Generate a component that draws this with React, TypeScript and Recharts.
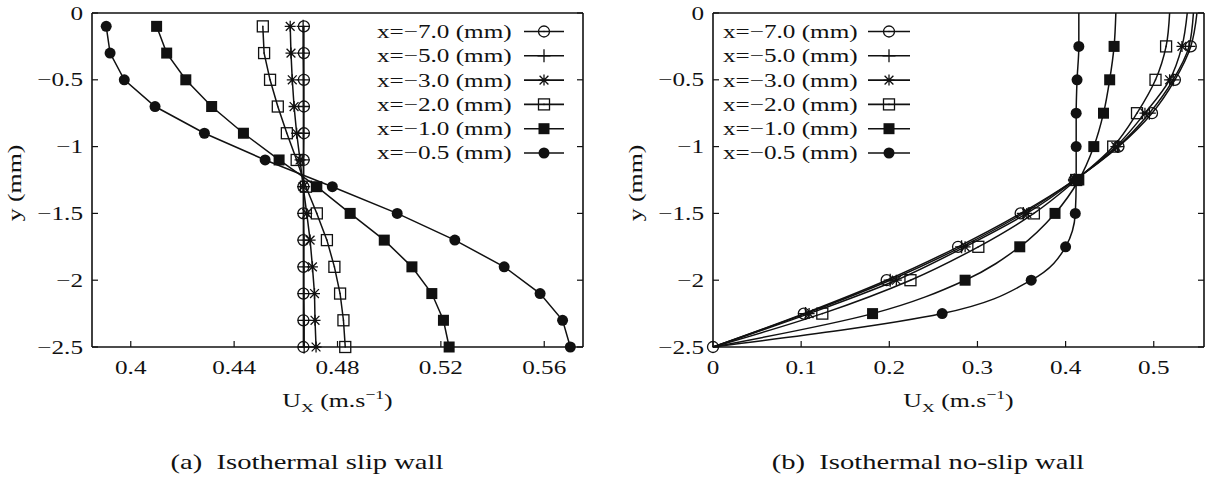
import React from "react"
import { LineChart, Line, XAxis, YAxis, Legend, Label } from "recharts"

const INK = "#111"
const FONT = "'Liberation Serif', 'Times New Roman', serif"
const STRETCH = 1.36
const FS = 18.5

const SERIES = ["x=−7.0 (mm)", "x=−5.0 (mm)", "x=−3.0 (mm)", "x=−2.0 (mm)", "x=−1.0 (mm)", "x=−0.5 (mm)"]
const MARKS = ["circle", "plus", "star", "square", "filledSquare", "filledCircle"]

// (a) isothermal slip wall
const slipY = [-0.1, -0.3, -0.5, -0.7, -0.9, -1.1, -1.3, -1.5, -1.7, -1.9, -2.1, -2.3, -2.5]
const slipM7 = [0.467, 0.467, 0.467, 0.467, 0.467, 0.4669, 0.4668, 0.4668, 0.4668, 0.4668, 0.4668, 0.4668, 0.4668]
const slipM5 = [0.4667, 0.4667, 0.4668, 0.4668, 0.4668, 0.4668, 0.4669, 0.4669, 0.467, 0.467, 0.467, 0.4671, 0.4671]
const slipM3 = [0.4617, 0.462, 0.4625, 0.4632, 0.4642, 0.4655, 0.4667, 0.4681, 0.4694, 0.4703, 0.4711, 0.4713, 0.4717]
const slipM2 = [0.4511, 0.4516, 0.4539, 0.4569, 0.4604, 0.4642, 0.4678, 0.472, 0.4759, 0.4788, 0.481, 0.4823, 0.483]
const slipM1 = [0.41, 0.4139, 0.4213, 0.4313, 0.4436, 0.4574, 0.472, 0.4849, 0.4981, 0.5088, 0.5165, 0.521, 0.5232]
const slipM05 = [0.3905, 0.392, 0.3975, 0.4094, 0.4285, 0.452, 0.478, 0.5031, 0.5254, 0.5445, 0.5584, 0.5671, 0.5701]
const slipXTicks = [0.4, 0.44, 0.48, 0.52, 0.56]

// (b) isothermal no-slip wall
const wallY = [0, -0.25, -0.5, -0.75, -1, -1.25, -1.5, -1.75, -2, -2.25, -2.5]
const wallM7 = [0.549, 0.542, 0.524, 0.498, 0.46, 0.41, 0.349, 0.278, 0.197, 0.103, 0]
const wallM5 = [0.545, 0.54, 0.522, 0.495, 0.459, 0.41, 0.352, 0.282, 0.201, 0.105, 0]
const wallM3 = [0.538, 0.532, 0.518, 0.49, 0.457, 0.411, 0.356, 0.286, 0.208, 0.109, 0]
const wallM2 = [0.518, 0.514, 0.502, 0.481, 0.454, 0.412, 0.364, 0.301, 0.224, 0.124, 0]
const wallM1 = [0.457, 0.455, 0.45, 0.443, 0.432, 0.415, 0.388, 0.348, 0.286, 0.181, 0]
const wallM05 = [0.415, 0.415, 0.413, 0.412, 0.412, 0.412, 0.411, 0.4, 0.361, 0.26, 0]
const wallXTicks = [0, 0.1, 0.2, 0.3, 0.4, 0.5]

const yTicks = [0, -0.5, -1, -1.5, -2, -2.5]

const toRows = (ys: number[], cols: number[][]) =>
  ys.map((y, i) => {
    const row: Record<string, number> = { y }
    cols.forEach((c, k) => (row[`s${k}`] = c[i]))
    return row
  })

const slipData = toRows(slipY, [slipM7, slipM5, slipM3, slipM2, slipM1, slipM05])
const wallData = toRows(wallY, [wallM7, wallM5, wallM3, wallM2, wallM1, wallM05])

const fmt = (v: number) => String(v).replace("-", "\u2212")

function Wide({ x, y, anchor = "middle", size = FS, rotate = 0, dy, children }: any) {
  return (
    <text
      transform={`translate(${x} ${y}) rotate(${rotate}) scale(${STRETCH} 1)`}
      textAnchor={anchor}
      dy={dy}
      fontFamily={FONT}
      fontSize={size}
      fill={INK}
    >
      {children}
    </text>
  )
}

function Marker({ kind, cx, cy }: { kind: string; cx: number; cy: number }) {
  const r = 5.5
  const sw = 1.3
  if (kind === "circle")
    return (
      <g>
        <circle cx={cx} cy={cy} r={r} fill="none" stroke={INK} strokeWidth={sw} />
        <circle cx={cx} cy={cy} r={0.8} fill={INK} />
      </g>
    )
  if (kind === "plus")
    return <path d={`M${cx - r - 1},${cy}H${cx + r + 1}M${cx},${cy - r - 1}V${cy + r + 1}`} stroke={INK} strokeWidth={sw} />
  if (kind === "star") {
    const d = r * 0.8
    return (
      <path
        d={`M${cx - r},${cy}H${cx + r}M${cx},${cy - r}V${cy + r}M${cx - d},${cy - d}L${cx + d},${cy + d}M${cx - d},${cy + d}L${cx + d},${cy - d}`}
        stroke={INK}
        strokeWidth={sw}
      />
    )
  }
  if (kind === "square")
    return (
      <g>
        <rect x={cx - r} y={cy - r} width={2 * r} height={2 * r} fill="none" stroke={INK} strokeWidth={sw} />
        <circle cx={cx} cy={cy} r={0.8} fill={INK} />
      </g>
    )
  if (kind === "filledSquare") return <rect x={cx - r} y={cy - r} width={2 * r} height={2 * r} fill={INK} />
  return <circle cx={cx} cy={cy} r={r} fill={INK} />
}

const BottomTick = ({ x, y, payload }: any) => (
  <g>
    <line x1={x} y1={y} x2={x} y2={y - 6} stroke={INK} strokeWidth={1.2} />
    <Wide x={x} y={y + 27}>{fmt(payload.value)}</Wide>
  </g>
)
const TopTick = ({ x, y }: any) => <line x1={x} y1={y} x2={x} y2={y + 6} stroke={INK} strokeWidth={1.2} />
const LeftTick = ({ x, y, payload }: any) => (
  <g>
    <line x1={x} y1={y} x2={x + 6} y2={y} stroke={INK} strokeWidth={1.2} />
    <Wide x={x - 9} y={y} anchor="end" dy="0.36em">{fmt(payload.value)}</Wide>
  </g>
)
const RightTick = ({ x, y }: any) => <line x1={x} y1={y} x2={x - 6} y2={y} stroke={INK} strokeWidth={1.2} />

function XTitle({ viewBox }: any) {
  const cx = viewBox.x + viewBox.width / 2
  const cy = viewBox.y + 60
  return (
    <Wide x={cx} y={cy} size={19}>
      U
      <tspan fontSize={13} dy={5}>X</tspan>
      <tspan dy={-5}> (m.s</tspan>
      <tspan fontSize={13} dy={-8}>−1</tspan>
      <tspan dy={8}>)</tspan>
    </Wide>
  )
}

function YTitle({ viewBox }: any) {
  return (
    <Wide x={viewBox.x + viewBox.width - 78} y={viewBox.y + viewBox.height / 2 + 3} size={19} rotate={-90} dy="0.35em">
      y (mm)
    </Wide>
  )
}

function KeyBox({ textX, anchor, lineX1, lineX2 }: any) {
  return (
    <svg width={606} height={170} style={{ display: "block" }}>
      {SERIES.map((name, i) => {
        const y = 31.5 + i * 24.3
        const mx = (lineX1 + lineX2) / 2
        return (
          <g key={name}>
            <Wide x={textX} y={y} anchor={anchor} dy="0.35em">{name}</Wide>
            <line x1={lineX1} y1={y} x2={lineX2} y2={y} stroke={INK} strokeWidth={1.6} />
            <Marker kind={MARKS[i]} cx={mx} cy={y} />
          </g>
        )
      })}
    </svg>
  )
}

const axisLine = { stroke: INK, strokeWidth: 1.6 }

function Panel({ data, xDomain, xTicks, margin, curve, keyProps, hideDot }: any) {
  return (
    <LineChart width={606} height={478} data={data} layout="vertical" margin={margin}>
      <XAxis
        type="number"
        domain={xDomain}
        ticks={xTicks}
        interval={0}
        height={1}
        tickSize={0}
        tickMargin={0}
        tickLine={false}
        axisLine={axisLine}
        tick={<BottomTick />}
      >
        <Label content={(p: any) => <XTitle viewBox={p.viewBox} />} />
      </XAxis>
      <XAxis
        xAxisId="top"
        orientation="top"
        type="number"
        domain={xDomain}
        ticks={xTicks}
        interval={0}
        height={1}
        tickSize={0}
        tickMargin={0}
        tickLine={false}
        axisLine={axisLine}
        tick={<TopTick />}
      />
      <YAxis
        dataKey="y"
        type="number"
        domain={[-2.5, 0]}
        ticks={yTicks}
        reversed
        interval={0}
        width={1}
        tickSize={0}
        tickMargin={0}
        tickLine={false}
        axisLine={axisLine}
        tick={<LeftTick />}
      >
        <Label content={(p: any) => <YTitle viewBox={p.viewBox} />} />
      </YAxis>
      <YAxis
        yAxisId="right"
        orientation="right"
        dataKey="y"
        type="number"
        domain={[-2.5, 0]}
        ticks={yTicks}
        reversed
        interval={0}
        width={1}
        tickSize={0}
        tickMargin={0}
        tickLine={false}
        axisLine={axisLine}
        tick={<RightTick />}
      />
      {SERIES.map((name, i) => (
        <Line
          key={name}
          name={name}
          dataKey={`s${i}`}
          type={curve}
          stroke={INK}
          strokeWidth={1.5}
          activeDot={false}
          isAnimationActive={false}
          dot={(p: any) =>
            hideDot(p.payload.y, i) ? (
              <g key={`d${i}-${p.index}`} />
            ) : (
              <g key={`d${i}-${p.index}`}>
                <Marker kind={MARKS[i]} cx={p.cx} cy={p.cy} />
              </g>
            )
          }
        />
      ))}
      <Legend
        layout="horizontal"
        verticalAlign="middle"
        align="center"
        wrapperStyle={{ left: 0, top: 0, width: 606, height: 170, pointerEvents: "none" }}
        content={() => <KeyBox {...keyProps} />}
      />
    </LineChart>
  )
}

const captionStyle: React.CSSProperties = {
  position: "absolute",
  top: 450,
  fontFamily: FONT,
  fontSize: 21,
  lineHeight: "24px",
  color: INK,
  whiteSpace: "nowrap",
  transform: `translateX(-50%) scaleX(${STRETCH})`,
}

export default function App() {
  return (
    <div style={{ position: "relative", width: 1212, height: 478, background: "#fff", overflow: "hidden" }}>
      <style>{"body{margin:0}"}</style>
      <div style={{ position: "absolute", left: 0, top: 0 }}>
        <Panel
          data={slipData}
          xDomain={[0.385, 0.575]}
          xTicks={slipXTicks}
          margin={{ top: 12, right: 22, bottom: 130, left: 91 }}
          curve="linear"
          keyProps={{ textX: 377, anchor: "start", lineX1: 524, lineX2: 564 }}
          hideDot={() => false}
        />
      </div>
      <div style={{ position: "absolute", left: 606, top: 0 }}>
        <Panel
          data={wallData}
          xDomain={[0, 0.557]}
          xTicks={wallXTicks}
          margin={{ top: 12, right: 7, bottom: 130, left: 106 }}
          curve="monotone"
          keyProps={{ textX: 117, anchor: "start", lineX1: 262, lineX2: 304 }}
          hideDot={(y: number, i: number) => y === 0 || (y === -2.5 && i > 0)}
        />
      </div>
      <div style={{ ...captionStyle, left: 307 }}>(a)&nbsp; Isothermal slip wall</div>
      <div style={{ ...captionStyle, left: 928 }}>(b)&nbsp; Isothermal no-slip wall</div>
    </div>
  )
}
